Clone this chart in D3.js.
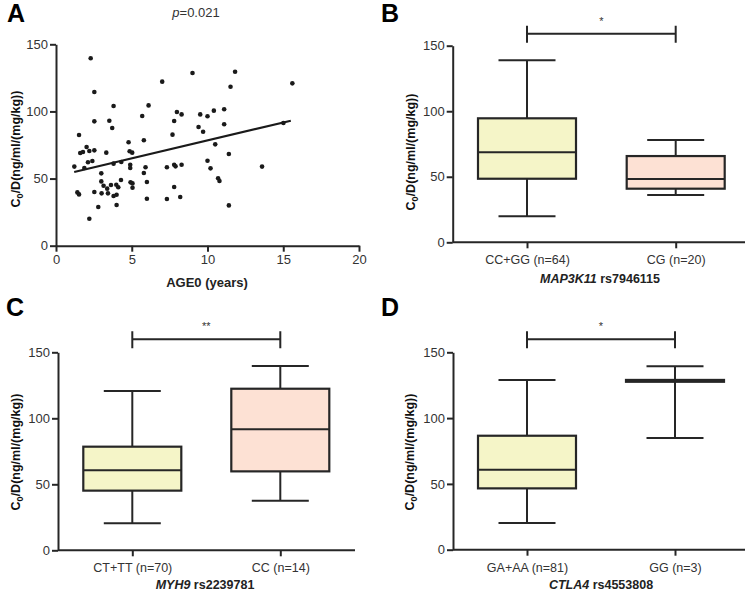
<!DOCTYPE html>
<html>
<head>
<meta charset="utf-8">
<script src="https://cdn.jsdelivr.net/npm/d3@7"></script>
<style>
body{margin:0;background:#fff;}
svg{font-family:"Liberation Sans",Arial,Helvetica,sans-serif;}
</style>
</head>
<body>
<svg id="chart" width="750" height="591"></svg>
<script>
// ---------- DATA ----------
const scatterAge = [1.21,1.52,1.41,1.52,1.60,1.78,1.87,2.02,2.11,2.20,2.29,2.20,2.40,2.53,2.53,2.53,2.53,2.79,2.99,2.99,3.01,3.14,3.32,3.38,3.43,3.52,3.63,3.71,3.80,3.80,3.80,3.98,4.00,4.00,4.11,4.29,4.31,4.79,4.86,4.90,4.90,4.92,5.03,5.05,5.05,5.69,5.80,5.80,5.91,6.00,6.00,6.11,7.01,7.32,7.32,7.69,7.80,7.80,7.80,7.89,7.98,8.20,8.29,8.29,9.01,9.41,9.52,9.71,10.00,10.00,10.20,10.42,10.51,10.70,10.79,11.10,11.10,11.41,11.41,11.52,11.82,13.60,15.01,15.60];
const scatterC0D = [58.9,82.4,39.7,38.2,69.0,69.8,57.9,73.5,62.1,70.5,139.6,20.1,63.1,71.0,114.5,92.6,40.0,28.8,53.9,47.9,39.0,44.7,69.3,42.5,39.0,93.1,45.2,87.7,104.0,61.1,37.0,45.4,38.0,30.3,43.5,48.9,62.3,77.0,70.3,60.3,57.9,47.2,69.3,46.4,43.2,96.6,78.5,54.1,58.4,47.4,35.0,104.5,122.2,58.4,34.8,82.7,92.9,60.3,43.7,59.1,99.6,36.3,60.3,97.8,128.6,88.4,97.8,84.9,96.4,63.3,57.6,100.6,75.5,50.2,48.2,101.6,90.4,68.3,30.0,118.4,129.6,58.9,91.4,120.9];
const fitAge = [1.2, 15.5];
const fitC0D = [54.9, 93.1];
const pText = "=0.021";
const xTicksA = [0,5,10,15,20];
const yTicks = [0,50,100,150];

// box plots: [whiskerLow, q1, median, q3, whiskerHigh]
const catsB = ["CC+GG (n=64)","CG (n=20)"];
const boxB = [[19.8,48.5,68.7,94.6,138.9],[36.1,40.9,48.3,65.8,78.0]];
const geneB = ["MAP3K11"," rs7946115"];
const sigB = "*";

const catsC = ["CT+TT (n=70)","CC (n=14)"];
const boxC = [[20.4,45.2,60.6,78.5,120.7],[37.6,59.8,91.7,122.4,139.6]];
const geneC = ["MYH9"," rs2239781"];
const sigC = "**";

const catsD = ["GA+AA (n=81)","GG (n=3)"];
const boxD = [[20.3,46.6,60.8,86.6,129.0],[84.9,127.6,128.3,129.0,139.4]];
const geneD = ["CTLA4"," rs4553808"];
const sigD = "*";

const boxFills = ["#f5f5c8","#fde1d4"];
const ink = "#262626";

// ---------- DRAW ----------
const svg = d3.select("#chart");

function yLabel(g, x, y){
  const t = g.append("text").attr("transform",`translate(${x},${y}) rotate(-90)`)
    .attr("text-anchor","middle").attr("font-weight","bold").attr("font-size",12.5).attr("fill","#111");
  t.append("tspan").text("C");
  t.append("tspan").attr("font-size",9).attr("dy",3).text("0");
  t.append("tspan").attr("dy",-3).text("/D(ng/ml/(mg/kg))");
}
function panelLetter(x,y,L){
  svg.append("text").attr("x",x).attr("y",y).attr("font-size",25).attr("font-weight","bold").attr("fill","#000").text(L);
}
function styleAxis(g){
  g.selectAll("path.domain").attr("stroke",ink).attr("stroke-width",2);
  g.selectAll(".tick line").attr("stroke",ink).attr("stroke-width",2);
  g.selectAll(".tick text").attr("fill","#333").attr("font-size",13).attr("font-family","Liberation Sans,Arial,sans-serif");
}

// Panel A
(function(){
  const x = d3.scaleLinear().domain([0,20]).range([56,359]);
  const y = d3.scaleLinear().domain([0,150]).range([245.7,44.3]);
  const g = svg.append("g");
  const gx = g.append("g").attr("transform",`translate(0,${y(0)})`)
    .call(d3.axisBottom(x).tickValues(xTicksA).tickSize(6).tickSizeOuter(0).tickPadding(3));
  styleAxis(gx);
  const gy = g.append("g").attr("transform",`translate(${x(0)},0)`)
    .call(d3.axisLeft(y).tickValues(yTicks).tickSize(6).tickSizeOuter(0).tickPadding(2));
  styleAxis(gy);
  g.append("g").selectAll("circle").data(scatterAge).join("circle")
    .attr("cx",(d)=>x(d)).attr("cy",(d,i)=>y(scatterC0D[i])).attr("r",2.3).attr("fill","#1a1a1a");
  g.append("line").attr("x1",x(fitAge[0])).attr("x2",x(fitAge[1])).attr("y1",y(fitC0D[0])).attr("y2",y(fitC0D[1]))
    .attr("stroke","#1a1a1a").attr("stroke-width",2.2);
  yLabel(g,20,149);
  g.append("text").attr("x",207).attr("y",287).attr("text-anchor","middle").attr("font-weight","bold")
    .attr("font-size",13).attr("fill","#222").text("AGE0 (years)");
  const p = g.append("text").attr("x",196).attr("y",17).attr("text-anchor","middle").attr("font-size",13).attr("fill","#333");
  p.append("tspan").attr("font-style","italic").text("p");
  p.append("tspan").text(pText);
  panelLetter(7,22,"A");
})();

function boxPanel(cfg){
  const y = d3.scaleLinear().domain([0,150]).range([cfg.y0,cfg.y150]);
  const x = d3.scalePoint().domain(cfg.cats).range(cfg.catRange);
  const g = svg.append("g");
  g.append("line").attr("x1",cfg.ax).attr("x2",cfg.axEnd).attr("y1",y(0)).attr("y2",y(0)).attr("stroke",ink).attr("stroke-width",2);
  const gx = g.append("g").attr("transform",`translate(0,${y(0)})`)
    .call(d3.axisBottom(x).tickSize(6).tickSizeOuter(0).tickPadding(7));
  gx.select("path.domain").remove();
  styleAxis(gx);
  gx.selectAll(".tick text").attr("font-size",12.5);
  const gy = g.append("g").attr("transform",`translate(${cfg.ax},0)`)
    .call(d3.axisLeft(y).tickValues(yTicks).tickSize(6).tickSizeOuter(0).tickPadding(2));
  styleAxis(gy);
  const bw = 98, cw = 57;
  cfg.cats.forEach((c,i)=>{
    const s = cfg.box[i], cx = x(c);
    const bg = g.append("g");
    bg.append("line").attr("x1",cx).attr("x2",cx).attr("y1",y(s[0])).attr("y2",y(s[1])).attr("stroke",ink).attr("stroke-width",2);
    bg.append("line").attr("x1",cx).attr("x2",cx).attr("y1",y(s[3])).attr("y2",y(s[4])).attr("stroke",ink).attr("stroke-width",2);
    bg.append("line").attr("x1",cx-cw/2).attr("x2",cx+cw/2).attr("y1",y(s[0])).attr("y2",y(s[0])).attr("stroke",ink).attr("stroke-width",2);
    bg.append("line").attr("x1",cx-cw/2).attr("x2",cx+cw/2).attr("y1",y(s[4])).attr("y2",y(s[4])).attr("stroke",ink).attr("stroke-width",2);
    bg.append("rect").attr("x",cx-bw/2).attr("width",bw).attr("y",y(s[3])).attr("height",y(s[1])-y(s[3]))
      .attr("fill",boxFills[i]).attr("stroke",ink).attr("stroke-width",2.2);
    bg.append("line").attr("x1",cx-bw/2).attr("x2",cx+bw/2).attr("y1",y(s[2])).attr("y2",y(s[2])).attr("stroke",ink).attr("stroke-width",2);
  });
  // significance bracket
  const x1 = x(cfg.cats[0]), x2 = x(cfg.cats[1]);
  g.append("path").attr("d",`M${x1},${cfg.brY-8}V${cfg.brY+9}M${x1},${cfg.brY}H${x2}M${x2},${cfg.brY-8}V${cfg.brY+9}`)
    .attr("fill","none").attr("stroke",ink).attr("stroke-width",2);
  g.append("text").attr("x",(x1+x2)/2).attr("y",cfg.brY-9).attr("text-anchor","middle").attr("font-size",11).attr("fill","#333").text(cfg.sig);
  yLabel(g,cfg.ylx,cfg.yly);
  const t = g.append("text").attr("x",cfg.geneX).attr("y",cfg.geneY).attr("text-anchor","middle")
    .attr("font-weight","bold").attr("font-size",12.5).attr("fill","#222");
  t.append("tspan").attr("font-style","italic").text(cfg.gene[0]);
  t.append("tspan").text(cfg.gene[1]);
  panelLetter(cfg.lx,cfg.ly,cfg.letter);
}

boxPanel({cats:catsB,box:boxB,gene:geneB,sig:sigB,y0:242.3,y150:45.7,ax:452.7,axEnd:745,catRange:[527,675.7],
  brY:33.7,ylx:415,yly:152,geneX:600,geneY:283,lx:381,ly:22,letter:"B"});
boxPanel({cats:catsC,box:boxC,gene:geneC,sig:sigC,y0:550.3,y150:352.3,ax:58,axEnd:355,catRange:[132.3,280.3],
  brY:339.3,ylx:20,yly:452,geneX:205,geneY:589,lx:6,ly:316,letter:"C"});
boxPanel({cats:catsD,box:boxD,gene:geneD,sig:sigD,y0:549.7,y150:352.3,ax:453,axEnd:745,catRange:[527,675],
  brY:339.3,ylx:414,yly:452,geneX:601,geneY:589,lx:381,ly:316,letter:"D"});
</script>
</body>
</html>
